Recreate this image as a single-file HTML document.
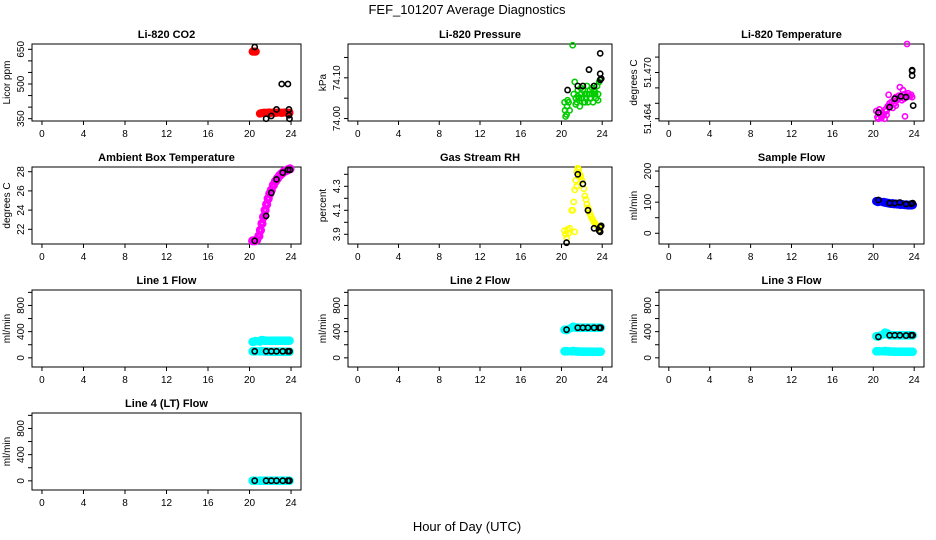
<!DOCTYPE html>
<html><head><meta charset="utf-8"><style>
body{margin:0;background:#fff;}
svg{display:block;font-family:"Liberation Sans",sans-serif;}
</style></head><body>
<svg id="c" width="936" height="540" viewBox="0 0 936 540">
<text x="467" y="14" text-anchor="middle" font-size="13">FEF_101207  Average Diagnostics</text>
<text x="467" y="531" text-anchor="middle" font-size="13">Hour of Day (UTC)</text>
</svg>
<script>
// ---- data ----
const xTicks = [0, 4, 8, 12, 16, 20, 24];
const hrsBand = [20.3,20.45,20.6,21.0,21.15,21.3,21.45,21.6,21.75,21.9,22.05,22.2,22.35,22.5,22.65,22.8,22.95,23.1,23.25,23.4,23.55,23.7,23.85];
const hrsBlack = [20.5,21.6,22.1,22.6,23.2,23.7,23.85];

const co2Red = [640,640,640,372,374,375,376,375,376,377,375,376,377,375,376,377,376,375,376,377,376,375,376];
const co2BlackT = [20.5,21.6,22.1,22.6,23.1,23.7,23.8,23.8,23.85];
const co2Black = [660,350,362,390,500,500,390,365,350];

const presT = [20.3,20.35,20.4,20.5,20.55,20.6,20.7,20.8,21.1,21.2,21.3,21.4,21.5,21.6,21.7,21.8,21.9,22.0,22.1,22.2,22.3,22.4,22.5,22.6,22.7,22.8,22.9,23.0,23.1,23.2,23.3,23.4,23.5,23.6,23.7,23.8,21.4,21.9,22.3,22.8,23.3,23.6,21.6,22.5,23.0];
const presGreen = [74.04,74.02,74.005,74.01,74.03,74.045,74.04,74.02,74.18,74.06,74.09,74.05,74.04,74.07,74.05,74.03,74.06,74.05,74.07,74.04,74.06,74.05,74.08,74.04,74.06,74.07,74.05,74.06,74.04,74.07,74.06,74.05,74.08,74.06,74.09,74.095,74.035,74.075,74.04,74.05,74.065,74.045,74.055,74.06,74.075];
const presBlackT = [20.6,21.6,22.1,22.7,23.2,23.8,23.8,23.8,23.9];
const presBlack = [74.07,74.08,74.08,74.12,74.08,74.16,74.11,74.095,74.098];

const tempT = [20.3,20.4,20.5,20.6,20.7,20.8,20.9,21.0,21.1,21.2,21.3,21.4,21.5,21.6,21.7,21.8,21.9,22.0,22.1,22.2,22.3,22.4,22.5,22.6,22.7,22.8,22.9,23.0,23.1,23.2,23.3,23.4,23.5,23.6,23.7,23.8,21.5,22.2,22.9,23.3,20.6,21.3,22.0,23.1,22.6];
const tempMag = [51.4650,51.4642,51.4640,51.4648,51.4645,51.4641,51.4644,51.4645,51.4640,51.4652,51.4650,51.4656,51.4655,51.4660,51.4657,51.4662,51.4654,51.4663,51.4660,51.4668,51.4664,51.4666,51.4670,51.4667,51.4668,51.4664,51.4671,51.4666,51.4672,51.4669,51.4668,51.4673,51.4670,51.4669,51.4671,51.4668,51.4671,51.4657,51.4677,51.4737,51.4652,51.4645,51.4660,51.4643,51.4681];
const tempBlackT = [20.5,21.6,22.1,22.7,23.2,23.8,23.8,23.8,23.9];
const tempBlack = [51.4648,51.4655,51.4666,51.4669,51.4668,51.4703,51.4702,51.4696,51.4657];

const ambT = [20.3,20.5,20.7,20.9,21.05,21.2,21.35,21.5,21.65,21.8,21.95,22.1,22.3,22.5,22.7,22.9,23.1,23.3,23.5,23.7,23.9];
const ambMag = [20.8,20.8,20.9,21.3,21.9,22.6,23.3,24.0,24.6,25.2,25.7,26.1,26.6,27.0,27.3,27.6,27.8,28.0,28.1,28.2,28.3];
const ambBlackT = [20.5,21.6,22.1,22.6,23.2,23.7,23.9];
const ambBlack = [20.8,23.4,25.8,27.2,27.9,28.2,28.2];

const rhT = [20.3,20.4,20.5,20.6,20.7,20.8,21.0,21.1,21.2,21.3,21.4,21.5,21.6,21.7,21.8,21.9,22.0,22.1,22.2,22.3,22.4,22.5,22.6,22.7,22.8,22.9,23.0,23.1,23.2,23.3,23.4,23.5,23.6,23.7,23.8,21.3,21.5];
const rhYel = [3.93,3.90,3.87,3.94,3.91,3.95,4.10,4.10,4.17,4.27,4.35,4.42,4.45,4.44,4.40,4.38,4.35,4.32,4.28,4.22,4.19,4.15,4.12,4.10,4.07,4.05,4.03,4.02,4.00,3.99,3.98,3.97,3.97,3.96,3.95,3.92,4.30];
const rhBlackT = [20.5,21.6,22.1,22.6,23.2,23.7,23.8,23.8,23.9];
const rhBlack = [3.83,4.40,4.32,4.10,3.95,3.93,3.92,3.96,3.97];

const sfBlue = [103,101,102,100,99,98,97,96,95,96,94,95,93,94,92,93,92,91,92,90,91,90,91];
const sfBlack = [107,97,97,99,94,95,97];

const l1Upper = [245,250,255,250,270,268,262,262,262,260,262,260,262,261,262,262,261,262,262,261,262,261,262];
const l1Lower = [100,100,100,100,102,100,98,97,98,96,96,95,95,95,94,95,94,94,95,94,94,95,94];
const l1Black = [100,100,100,100,100,100,100];
const l2Upper = [430,425,430,460,475,470,460,462,460,461,460,462,459,460,461,460,460,461,460,459,460,461,460];
const l2Lower = [100,100,100,100,105,100,98,97,96,96,95,95,94,94,95,94,94,93,94,93,94,93,94];
const l2Black = [430,460,460,460,460,460,460];
const l3Upper = [330,325,335,360,385,380,360,345,345,345,344,345,344,345,345,344,345,344,345,344,345,345,344];
const l3Lower = [100,100,100,100,105,100,98,97,96,96,95,95,94,94,95,94,94,93,94,93,94,93,94];
const l3Black = [320,345,345,345,340,345,345];
const l4Cyan = [2,2,2,2,2,2,2,2,2,2,2,2,2,2,2,2,2,2,2,2,2,2,2];
const l4Black = [2,2,2,2,2,2,2];

// ---- layout ----
const svg = document.getElementById('c');
const NS = 'http://www.w3.org/2000/svg';
const colX = [[32,301],[348,612],[659,924]];
const rowY = [[44,121],[167,244],[290,367],[413,490]];
const XD = [-0.96, 24.96];

function mk(tag, attrs, parent){
  const e = document.createElementNS(NS, tag);
  for (const k in attrs) e.setAttribute(k, attrs[k]);
  (parent||svg).appendChild(e);
  return e;
}

function panel(opts){
  const [x0,x1] = colX[opts.col], [y0,y1] = rowY[opts.row];
  const g = mk('g', {});
  
  
  const sx = v => x0 + (v - XD[0]) / (XD[1]-XD[0]) * (x1-x0);
  const sy = v => y1 - (v - opts.yd[0]) / (opts.yd[1]-opts.yd[0]) * (y1-y0);
  const box = mk('rect', {x:x0, y:y0, width:x1-x0, height:y1-y0, fill:'none', stroke:'#000', 'stroke-width':1}, g);
  
  
  const t = mk('text', {x:(x0+x1)/2, y:y0-6, 'text-anchor':'middle', 'font-size':11, 'font-weight':'bold'}, g);
  t.textContent = opts.title;
  
  
  // x axis
  const xa = mk('g', {}, g);
  
  
  xTicks.forEach(v => {
    mk('line', {x1:sx(v), x2:sx(v), y1:y1, y2:y1+4, stroke:'#000'}, xa);
    const tl = mk('text', {x:sx(v), y:y1+16, 'text-anchor':'middle', 'font-size':10}, xa);
    tl.textContent = v;
    
    
  });
  // y axis
  const ya = mk('g', {}, g);
  
  
  opts.yticks.forEach(v => {
    mk('line', {x1:x0-4, x2:x0, y1:sy(v), y2:sy(v), stroke:'#000'}, ya);
  });
  opts.ylabels.forEach(v => {
    const tl = mk('text', {x:0, y:0, 'text-anchor':'middle', 'font-size':10, transform:`translate(${x0-8},${sy(v[0])}) rotate(-90)`}, ya);
    tl.textContent = v[1];
    
    
  });
  const yt = mk('text', {x:0, y:0, 'text-anchor':'middle', 'font-size':10, transform:`translate(${x0-22},${(y0+y1)/2}) rotate(-90)`}, g);
  yt.textContent = opts.ylab;
  
  
  // series
  opts.series.forEach(s => {
    const sg = mk('g', {}, g);
    
    
    s.t.forEach((tv, i) => {
      const c = mk('circle', {cx:sx(tv), cy:sy(s.v[i]), r:2.6, fill:'none', stroke:s.color, 'stroke-width':s.sw||1.6}, sg);
      
      
    });
  });
}

function rng(a,b,s){const r=[];for(let v=a;v<=b+1e-9;v+=s)r.push(+v.toFixed(4));return r;}
const flowTicks = [0,200,400,600,800,1000];
const flowLabels = [[0,'0'],[400,'400'],[800,'800']];
const FD = [-140,1036];

panel({name:'panel-co2', col:0,row:0,title:'Li-820 CO2',ylab:'Licor ppm',yd:[340,673],
  yticks:[350,400,450,500,550,600,650], ylabels:[[350,'350'],[500,'500'],[650,'650']],
  series:[{name:'co2-series',t:hrsBand,v:co2Red,color:'#f00',sw:3},{name:'co2-hourly',t:co2BlackT,v:co2Black,color:'#000'}]});
panel({name:'panel-pressure', col:1,row:0,title:'Li-820 Pressure',ylab:'kPa',yd:[73.994,74.183],
  yticks:[74.00,74.05,74.10,74.15], ylabels:[[74.00,'74.00'],[74.10,'74.10']],
  series:[{name:'pressure-series',t:presT,v:presGreen,color:'#0c0'},{name:'pressure-hourly',t:presBlackT,v:presBlack,color:'#000'}]});
panel({name:'panel-li820-temp', col:2,row:0,title:'Li-820 Temperature',ylab:'degrees C',yd:[51.4637,51.4737],
  yticks:[51.464,51.466,51.468,51.470,51.472], ylabels:[[51.464,'51.464'],[51.470,'51.470']],
  series:[{name:'temp-series',t:tempT,v:tempMag,color:'#f0f'},{name:'temp-hourly',t:tempBlackT,v:tempBlack,color:'#000'}]});
panel({name:'panel-ambient-temp', col:0,row:1,title:'Ambient Box Temperature',ylab:'degrees C',yd:[20.47,28.49],
  yticks:[22,24,26,28], ylabels:[[22,'22'],[24,'24'],[26,'26'],[28,'28']],
  series:[{name:'ambient-series',t:ambT,v:ambMag,color:'#f0f',sw:4},{name:'ambient-hourly',t:ambBlackT,v:ambBlack,color:'#000'}]});
panel({name:'panel-rh', col:1,row:1,title:'Gas Stream RH',ylab:'percent',yd:[3.819,4.461],
  yticks:[3.9,4.0,4.1,4.2,4.3,4.4], ylabels:[[3.9,'3.9'],[4.1,'4.1'],[4.3,'4.3']],
  series:[{name:'rh-series',t:rhT,v:rhYel,color:'#ff0'},{name:'rh-hourly',t:rhBlackT,v:rhBlack,color:'#000'}]});
panel({name:'panel-sample-flow', col:2,row:1,title:'Sample Flow',ylab:'ml/min',yd:[-34.5,213],
  yticks:[0,50,100,150,200], ylabels:[[0,'0'],[100,'100'],[200,'200']],
  series:[{name:'sample-flow-series',t:hrsBand,v:sfBlue,color:'#00f',sw:3.5},{name:'sample-flow-hourly',t:hrsBlack,v:sfBlack,color:'#000'}]});
panel({name:'panel-line1', col:0,row:2,title:'Line 1 Flow',ylab:'ml/min',yd:FD,yticks:flowTicks,ylabels:flowLabels,
  series:[{name:'line1-upper',t:hrsBand,v:l1Upper,color:'#0ff',sw:3.5},{name:'line1-lower',t:hrsBand,v:l1Lower,color:'#0ff',sw:3.5},{name:'line1-hourly',t:hrsBlack,v:l1Black,color:'#000'}]});
panel({name:'panel-line2', col:1,row:2,title:'Line 2 Flow',ylab:'ml/min',yd:FD,yticks:flowTicks,ylabels:flowLabels,
  series:[{name:'line2-upper',t:hrsBand,v:l2Upper,color:'#0ff',sw:3.5},{name:'line2-lower',t:hrsBand,v:l2Lower,color:'#0ff',sw:3.5},{name:'line2-hourly',t:hrsBlack,v:l2Black,color:'#000'}]});
panel({name:'panel-line3', col:2,row:2,title:'Line 3 Flow',ylab:'ml/min',yd:FD,yticks:flowTicks,ylabels:flowLabels,
  series:[{name:'line3-upper',t:hrsBand,v:l3Upper,color:'#0ff',sw:3.5},{name:'line3-lower',t:hrsBand,v:l3Lower,color:'#0ff',sw:3.5},{name:'line3-hourly',t:hrsBlack,v:l3Black,color:'#000'}]});
panel({name:'panel-line4', col:0,row:3,title:'Line 4 (LT) Flow',ylab:'ml/min',yd:FD,yticks:flowTicks,ylabels:flowLabels,
  series:[{name:'line4-series',t:hrsBand,v:l4Cyan,color:'#0ff',sw:3.5},{name:'line4-hourly',t:hrsBlack,v:l4Black,color:'#000'}]});
</script>
</body></html>
